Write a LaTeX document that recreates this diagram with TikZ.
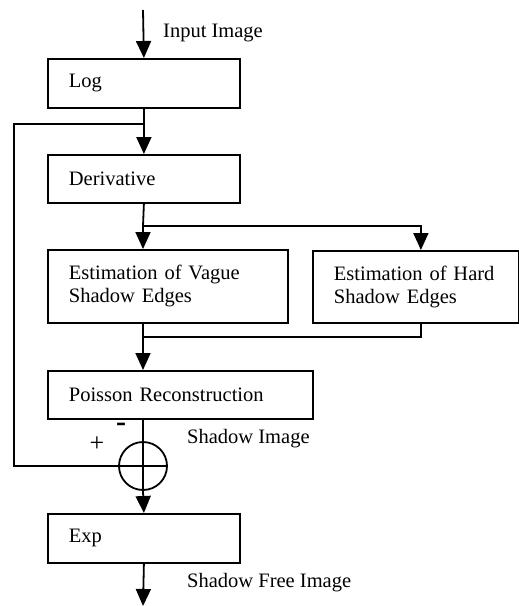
\documentclass[tikz,border=0pt]{standalone}
\usepackage{fontspec}
\setmainfont{Liberation Serif}
\usetikzlibrary{arrows.meta}

\tikzset{
    blk/.style={draw, line width=1.8pt, anchor=north west, align=left,
        inner xsep=21pt, inner ysep=0pt, font=\fontsize{20.5}{23}\selectfont},
    lbl/.style={anchor=west, inner sep=0pt, font=\fontsize{20.5}{23}\selectfont},
    arr/.style={line width=1.8pt, -{Triangle[width=15pt,length=17pt]}},
    ln/.style={line width=1.8pt}
}

\begin{document}
\begin{tikzpicture}[x=1pt,y=-1pt]
    \useasboundingbox (0,0) rectangle (519,606);

    % Processing blocks
    \node[blk, minimum width=192pt, minimum height=49pt, text width=150pt] (log) at (47,58) {Log};
    \node[blk, minimum width=192pt, minimum height=48pt, text width=150pt] (deriv) at (47,154) {Derivative};
    \node[blk, minimum width=240pt, minimum height=73pt, text width=198pt] (vague) at (47,249) {Estimation of Vague\\Shadow Edges};
    \node[blk, minimum width=206pt, minimum height=72pt, text width=164pt] (hard) at (312,250) {Estimation of Hard\\Shadow Edges};
    \node[blk, minimum width=265pt, minimum height=48pt, text width=223pt] (poisson) at (47,370) {Poisson Reconstruction};
    \node[draw, circle, line width=1.8pt, minimum size=48pt, inner sep=0pt] (sum) at (143,466) {};
    \node[blk, minimum width=192pt, minimum height=49pt, text width=150pt] (exp) at (47,513) {Exp};

    % Helper points
    \coordinate (in) at (143,10);
    \coordinate (fb) at (143,124);
    \coordinate (fbtop) at (14,124);
    \coordinate (split) at (143,226);
    \coordinate (join) at (143,337);
    \coordinate (out) at (143,606);

    % Main flow
    \draw[arr] (in) -- (log.north);
    \draw[arr] (log.south) -- (deriv.north);
    \draw[ln] (deriv.south) -- (split);
    \draw[arr] (split) -- (split |- vague.north);
    \draw[arr] (split) -| ([xshift=5pt]hard.north);
    \draw[ln] (vague.south -| join) -- (join);
    \draw[ln] ([xshift=5pt]hard.south) |- (join);
    \draw[arr] (join) -- (join |- poisson.north);
    \draw[ln] (poisson.south -| sum) -- (sum.north);
    \draw[ln] (sum.north) -- (sum.south);
    \draw[ln] (sum.west) -- (sum.east);
    \draw[arr] (sum.south) -- (exp.north);
    \draw[arr] (exp.south) -- (out);

    % Feedback of the log image
    \draw[ln] (fb) -- (fbtop) |- (sum.west);

    % Labels
    \node[lbl] (lin) at (163,33) {Input Image};
    \node[lbl] (lshadow) at (187,439) {Shadow Image};
    \node[lbl] (lfree) at (187,583) {Shadow Free Image};
    \node[lbl, anchor=center, font=\fontsize{26}{28}\selectfont] (plus) at (97,444) {+};
    \node[lbl, anchor=center, font=\fontsize{30}{30}\selectfont\bfseries] (minus) at (121,427) {-};
\end{tikzpicture}
\end{document}
